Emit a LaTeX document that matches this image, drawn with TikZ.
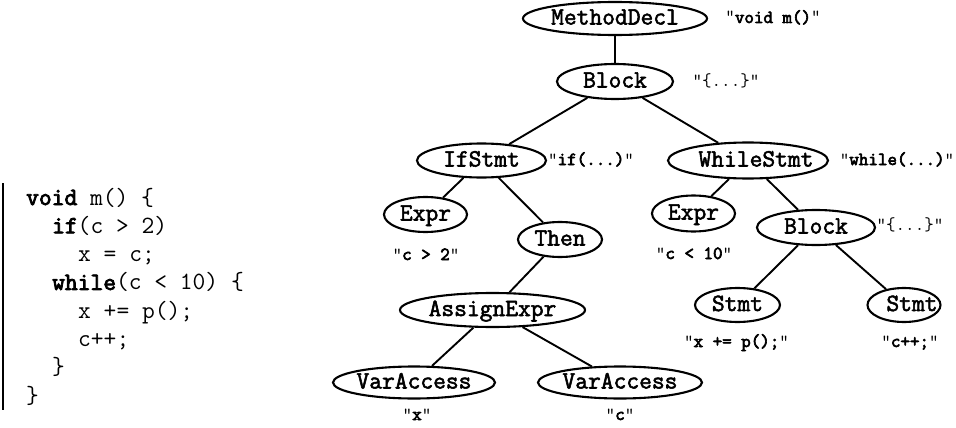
\documentclass[tikz,border=0pt]{standalone}
\usepackage{fontspec}
\newfontfamily\lmmono{Latin Modern Mono}
\newfontfamily\lmnode{Latin Modern Mono}[FakeBold=2.2]
\newfontfamily\lmbold{Latin Modern Mono}[FakeBold=3.4]
\usetikzlibrary{shapes.geometric}
\newcommand{\qlab}[1]{{\lmmono"}#1{\lmmono"}}
\newcommand{\kw}[1]{{\lmbold #1}}
\newcommand{\nt}[1]{\makebox[0pt][c]{#1}}
\tikzset{
  ast/.style={ellipse, draw, line width=2.1pt, inner sep=0pt,
    font=\lmnode\fontsize{24.8}{27}\selectfont, text height=12pt, text depth=0pt},
  edge/.style={line width=1.9pt},
  lab/.style={anchor=base, inner sep=0pt, font=\lmbold\fontsize{18.5}{20}\selectfont},
  codeline/.style={anchor=base west, inner sep=0pt, font=\lmmono\fontsize{24.8}{27}\selectfont},
}
\begin{document}
\begin{tikzpicture}[x=1pt,y=-1pt]
\useasboundingbox (0,0) rectangle (956,428);
% code listing
\draw[line width=2pt] (3,183) -- (3,410);
\node[codeline] (c1) at (26,205) {\kw{void} m() \{};
\node[codeline] (c2) at (52,233.3) {\kw{if}(c > 2)};
\node[codeline] (c3) at (78,261.6) {x = c;};
\node[codeline] (c4) at (52,289.9) {\kw{while}(c < 10) \{};
\node[codeline] (c5) at (78,318.2) {x += p();};
\node[codeline] (c6) at (78,346.5) {c++;};
\node[codeline] (c7) at (52,374.8) {\}};
\node[codeline] (c8) at (26,403.1) {\}};
% AST nodes
\node[ast, minimum width=184pt, minimum height=33pt] (md) at (615,18.5) {\nt{MethodDecl}};
\node[ast, minimum width=116pt, minimum height=35pt] (blk) at (615,81.5) {\nt{Block}};
\node[ast, minimum width=129pt, minimum height=34pt] (ifs) at (481.5,160.5) {\nt{IfStmt}};
\node[ast, minimum width=160pt, minimum height=36pt] (wh) at (748,160.5) {\nt{\hspace*{16pt}WhileStmt}};
\node[ast, minimum width=83pt, minimum height=35pt] (ex1) at (425.5,214.5) {\nt{Expr}};
\node[ast, minimum width=84pt, minimum height=35pt] (then) at (560,239.5) {\nt{Then}};
\node[ast, minimum width=83pt, minimum height=36pt] (ex2) at (693.5,213.5) {\nt{Expr}};
\node[ast, minimum width=118pt, minimum height=35pt] (blk2) at (816,227.5) {\nt{Block}};
\node[ast, minimum width=185pt, minimum height=34pt] (asg) at (492.5,310) {\nt{AssignExpr}};
\node[ast, minimum width=162pt, minimum height=32pt] (va1) at (414,382.5) {\nt{VarAccess}};
\node[ast, minimum width=164pt, minimum height=32pt] (va2) at (620,382.5) {\nt{VarAccess}};
\node[ast, minimum width=85pt, minimum height=34pt] (st1) at (737.5,305) {\nt{Stmt}};
\node[ast, minimum width=73pt, minimum height=34pt] (st2) at (904,305) {\nt{\hspace*{16pt}Stmt}};
% edges
\draw[edge] (md) -- (blk);
\draw[edge] (blk) -- (ifs);
\draw[edge] (blk) -- (wh);
\draw[edge] (ifs) -- (ex1);
\draw[edge] (ifs) -- (then);
\draw[edge] (then) -- (asg);
\draw[edge] (asg) -- (va1);
\draw[edge] (asg) -- (va2);
\draw[edge] (wh) -- (ex2);
\draw[edge] (wh) -- (blk2);
\draw[edge] (blk2) -- (st1);
\draw[edge] (blk2) -- (st2);
% labels
\node[lab] (lmd) at (773,23) {\qlab{void m()}};
\node[lab] (lblk) at (726,86) {\lmmono"\{...\}"};
\node[lab] (lif) at (591,165) {\qlab{if(...)}};
\node[lab] (lwh) at (897,165) {\qlab{while(...)}};
\node[lab] (lex1) at (426,260) {\qlab{c > 2}};
\node[lab] (lex2) at (694,259) {\qlab{c < 10}};
\node[lab] (lblk2) at (910,230) {\lmmono"\{...\}"};
\node[lab] (lst1) at (736.5,347) {\qlab{x += p();}};
\node[lab] (lst2) at (910,347) {\qlab{c++;}};
\node[lab] (lva1) at (417,420) {\qlab{x}};
\node[lab] (lva2) at (620,420) {\qlab{c}};
\end{tikzpicture}
\end{document}
